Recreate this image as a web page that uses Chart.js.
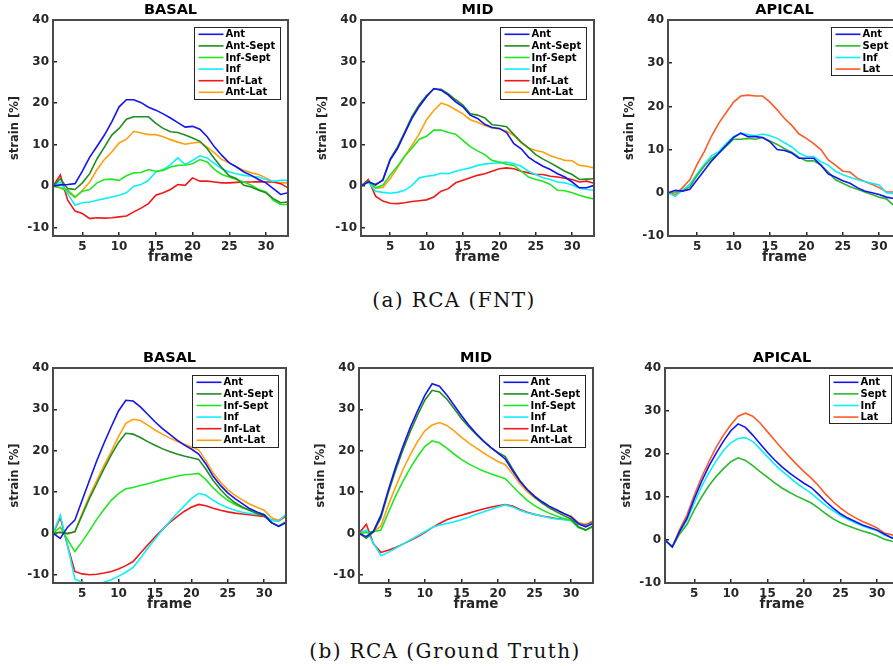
<!DOCTYPE html>
<html>
<head>
<meta charset="utf-8">
<script src="https://cdn.jsdelivr.net/npm/chart.js@4.4.1/dist/chart.umd.min.js"></script>
<style>
  body { margin: 0; background: #fff; width: 893px; height: 666px; overflow: hidden; position: relative; }
  canvas { position: absolute; }
  .axes-box {
    position: absolute; box-sizing: border-box; pointer-events: none;
    border: 2px solid #4a4a4a;
  }
  .caption {
    position: absolute; transform: translate(-50%, -50%); white-space: nowrap;
    font-family: "DejaVu Serif", serif; font-size: 20px; letter-spacing: 1.4px; color: #111;
  }
</style>
</head>
<body>
<canvas id="c1"></canvas>
<canvas id="c2"></canvas>
<canvas id="c3"></canvas>
<canvas id="c4"></canvas>
<canvas id="c5"></canvas>
<canvas id="c6"></canvas>
<div class="caption" style="left:454px; top:300px;">(a) RCA (FNT)</div>
<div class="caption" style="left:445px; top:651px;">(b) RCA (Ground Truth)</div>

<script>
// frames and tick values
const frames = [1,2,3,4,5,6,7,8,9,10,11,12,13,14,15,16,17,18,19,20,21,22,23,24,25,26,27,28,29,30,31,32,33];
const xTicks = [5, 10, 15, 20, 25, 30];
const yTicks = [-10, 0, 10, 20, 30, 40];

const segLabels = ['Ant', 'Ant-Sept', 'Inf-Sept', 'Inf', 'Inf-Lat', 'Ant-Lat'];
const apicalLabels = ['Ant', 'Sept', 'Inf', 'Lat'];

// (a) FNT - basal
const fntBasalAnt     = [0,0.3,0.4,0.6,3.6,7,9.6,12.3,15.5,19.1,20.8,20.8,20.1,19,18.3,17.4,16.4,15.3,14.2,14.4,13.7,11.9,9.4,7.4,5.6,4.6,3.4,2.6,1.6,0.8,-0.6,-2.0,-1.6];
const fntBasalAntSept = [0,1.8,-0.6,-0.8,0.8,3,6.6,9.4,12.3,13.9,16.1,16.7,16.7,16.7,15.1,13.9,13.1,12.9,12.3,11.6,10.8,9.0,6.6,4.4,2.5,1.8,0.2,-0.2,-1.0,-1.6,-3.0,-4.0,-3.8];
const fntBasalInfSept = [0,-0.4,-1.0,-2.6,-1.2,-0.8,0.8,1.6,1.7,1.4,2.5,3.2,3.3,4.0,3.6,3.8,4.6,5.0,5.1,5.4,6.4,5.8,4.0,2.8,2.2,1.6,1.0,0.2,-0.8,-1.4,-3.4,-4.4,-4.4];
const fntBasalInf     = [0,1.0,-1.8,-4.6,-4.0,-3.8,-3.4,-3.0,-2.6,-2.2,-1.6,0,0.4,1.4,3.4,4.0,5.2,6.8,5.2,6.2,7.3,6.8,5.4,4.2,3.4,3.0,2.6,2.4,2.2,1.6,1.2,1.4,1.4];
const fntBasalInfLat  = [0,2.7,-3.4,-6.0,-6.6,-7.8,-7.6,-7.7,-7.6,-7.4,-7.2,-6.2,-5.3,-4.2,-2.2,-1.6,-0.8,0.4,0.2,2.0,1.2,1.2,1.0,0.8,0.8,0.9,1.0,1.0,1.1,1.0,1.0,0.6,-0.4];
const fntBasalAntLat  = [0,-0.4,-1.4,-2.8,-1.0,1.0,4.0,6.4,8.2,10.4,11.3,13.2,12.8,12.4,12.4,11.9,11.2,10.6,10.1,10.4,10.6,9.4,8.0,6.4,5.6,4.6,3.8,3.2,2.8,2.0,1.0,0.8,0.8];

// (a) FNT - mid
const fntMidAnt     = [0,1.0,0.4,1.4,6.3,9.0,12.7,16.3,19.2,21.5,23.5,23.1,21.9,20.3,19.1,17.1,16.3,14.9,14.1,13.9,12.9,10.2,9.0,7.0,5.8,4.8,4.0,3.0,2.2,1.0,-0.4,-0.4,0.2];
const fntMidAntSept = [0,1.2,0.2,1.6,6.5,9.4,13.0,16.8,19.6,21.8,23.4,23.3,22.2,20.8,19.5,17.4,17.1,16.4,14.8,14.6,14.3,12.4,10.6,9.2,7.6,6.5,5.6,4.6,3.6,2.8,1.6,1.7,1.8];
const fntMidInfSept = [0,1.2,-0.4,0.2,2.6,4.8,7.2,9.2,11.3,12.0,13.5,13.5,12.9,12.5,11.0,9.5,8.5,7.6,6.2,5.8,5.3,5.0,3.6,2.2,1.6,1.2,0.4,-1.0,-1.1,-1.6,-2.2,-2.7,-3.1];
const fntMidInf     = [0,1.0,-1.2,-1.5,-1.7,-1.5,-1.0,0.2,2.0,2.4,2.6,3.1,3.0,3.6,4.0,4.4,5.0,5.3,5.5,5.6,5.8,5.4,4.8,3.6,2.8,2.0,1.6,1.0,0.8,0.3,-0.5,-0.8,-1.0];
const fntMidInfLat  = [0,1.6,-2.4,-3.6,-4.1,-4.2,-4.0,-3.7,-3.5,-3.3,-2.6,-1.2,-0.6,0.8,1.4,2.0,2.6,3.0,3.6,4.2,4.4,4.2,3.6,3.2,2.8,2.8,2.4,2.2,1.9,1.6,1.0,1.2,0.7];
const fntMidAntLat  = [0,1.4,-0.5,-0.3,1.8,4.4,7.2,9.8,12.6,16.0,18.2,20.0,19.4,18.4,17.4,16.0,15.4,14.6,14.0,13.8,13.2,12.2,10.4,9.2,8.6,8.2,7.3,6.8,6.2,6.1,5.0,4.8,4.4];

// (a) FNT - apical
const fntApAnt  = [0,0.6,0.4,0.8,3.0,5.2,7.4,9.2,11.0,12.8,13.8,13.0,13.0,12.8,11.8,10.0,9.8,9.2,8.0,8.0,8.0,6.4,4.4,3.6,2.8,2.2,1.2,0.4,0,-0.4,-1.0,-1.3,-1.5];
const fntApSept = [0,0.2,0.4,1.4,4.0,6.2,8.0,9.2,10.8,12.4,12.4,12.6,12.4,12.8,12.0,11.2,10.2,9.4,8.2,7.4,7.4,6.4,4.8,3.0,2.2,1.4,0.8,0.2,-0.4,-1.0,-1.4,-2.9,-2.8];
const fntApInf  = [0,-0.8,0.6,2.0,4.4,6.6,8.6,9.6,11.4,13.0,13.8,13.5,13.2,13.6,13.2,12.6,11.6,10.6,9.2,8.4,8.4,7.2,6.4,5.0,4.2,3.6,3.0,2.6,2.2,1.8,0,-0.2,-0.3];
const fntApLat  = [0,-0.4,1.2,3.0,6.6,9.6,13.2,16.2,18.6,21.0,22.4,22.6,22.4,22.4,21.0,19.2,17.2,15.6,13.6,12.6,11.4,10.0,7.6,6.4,5.0,4.8,3.4,2.6,2.0,1.2,0.2,0.2,0];

// (b) ground truth - basal
const gtBasalAnt     = [0,-1.2,1.5,3.2,8.0,12.8,17.5,21.8,25.8,29.6,32.2,32.0,30.6,28.8,27.0,25.4,24.0,22.6,21.4,20.4,19.2,16.8,13.8,11.6,9.8,8.4,7.2,6.0,5.2,4.5,2.6,1.7,2.6];
const gtBasalAntSept = [0,0.2,0,0.4,4.4,8.4,12.0,15.6,19.0,22.0,24.2,24.0,23.2,22.2,21.3,20.5,19.8,19.2,18.7,18.3,17.9,15.5,12.8,10.6,8.8,7.4,6.4,5.6,4.8,4.2,2.6,1.7,2.8];
const gtBasalInfSept = [0,1.5,-1.5,-4.4,-2.0,0.6,3.4,5.8,8.0,9.6,10.8,11.1,11.6,12.0,12.5,13.0,13.4,13.8,14.2,14.3,14.5,13.0,11.0,9.4,8.0,7.0,6.2,5.6,5.0,4.6,2.6,1.8,2.8];
const gtBasalInf     = [0,4.4,-3.0,-11.0,-11.8,-12.2,-12.2,-11.8,-11.2,-10.4,-9.4,-8.2,-6.0,-3.6,-1.4,0.8,2.8,4.8,6.6,8.4,9.7,9.2,8.0,7.0,6.2,5.6,5.1,4.8,4.6,4.5,3.2,3.0,4.6];
const gtBasalInfLat  = [0,3.8,-3.0,-9.2,-9.8,-10.0,-9.9,-9.6,-9.2,-8.6,-7.8,-6.8,-4.8,-2.8,-0.9,0.9,2.6,4.0,5.3,6.3,7.0,6.7,6.1,5.6,5.2,4.9,4.7,4.5,4.3,4.1,3.2,3.0,4.2];
const gtBasalAntLat  = [0,0.4,-0.2,0.4,4.8,9.0,12.8,16.4,19.8,23.4,26.6,27.6,27.3,26.2,25.0,24.0,23.1,22.3,21.6,20.9,20.2,17.6,14.6,12.4,10.6,9.2,8.1,7.1,6.3,5.6,3.8,3.2,4.4];

// (b) ground truth - mid
const gtMidAnt     = [0,-0.8,0.6,4.4,10.4,16.0,21.0,25.6,29.6,33.4,36.2,35.6,33.5,31.0,28.5,26.2,24.2,22.4,20.8,19.4,18.0,15.2,12.6,10.6,9.0,7.7,6.6,5.7,4.8,4.0,2.4,1.6,2.4];
const gtMidAntSept = [0,-1.2,0.4,3.8,9.8,15.2,20.2,24.6,28.6,32.2,34.6,34.2,32.5,30.2,27.8,25.8,24.0,22.3,20.8,19.6,18.6,15.6,12.8,10.6,8.8,7.4,6.2,5.2,4.3,3.5,1.6,0.8,1.8];
const gtMidInfSept = [0,0.2,0.4,0.8,5.0,9.0,12.6,15.8,18.6,21.0,22.4,21.9,20.6,19.2,17.9,16.8,15.9,15.1,14.4,13.8,13.2,11.4,9.6,8.0,6.7,5.7,4.9,4.2,3.6,3.1,1.4,0.8,1.6];
const gtMidInf     = [0,0.8,-2.4,-5.4,-4.6,-3.6,-2.6,-1.6,-0.6,0.4,1.4,2.0,2.4,2.8,3.3,3.9,4.6,5.2,5.8,6.4,6.9,6.4,5.6,5.0,4.6,4.2,3.8,3.5,3.3,3.1,2.2,1.8,2.6];
const gtMidInfLat  = [0,2.2,-2.6,-4.6,-4.1,-3.4,-2.6,-1.7,-0.8,0.2,1.4,2.4,3.3,3.9,4.4,4.9,5.4,5.9,6.3,6.7,7.0,6.6,5.8,5.1,4.6,4.2,3.9,3.6,3.4,3.2,2.2,2.0,2.8];
const gtMidAntLat  = [0,0.2,0.4,1.8,6.8,11.2,15.4,19.0,22.2,24.8,26.2,26.8,26.1,24.8,23.3,21.9,20.7,19.5,18.4,17.4,16.6,14.4,12.0,10.1,8.6,7.4,6.4,5.6,4.8,4.2,2.6,2.2,3.0];

// (b) ground truth - apical
const gtApAnt  = [0,-1.6,2.0,5.0,9.6,13.6,17.2,20.2,23.0,25.4,27.0,26.2,24.4,22.4,20.4,18.6,17.0,15.6,14.4,13.2,12.2,10.6,8.9,7.4,6.1,5.1,4.3,3.5,2.9,2.3,1.4,0.5,0.4];
const gtApSept = [0,-1.6,1.4,3.6,7.0,10.0,12.6,14.8,16.6,18.2,19.1,18.5,17.3,15.9,14.6,13.3,12.1,11.1,10.2,9.4,8.6,7.4,6.1,4.9,4.0,3.3,2.7,2.1,1.6,1.0,0.2,-0.3,-0.4];
const gtApInf  = [0,-1.6,1.8,4.6,8.6,12.4,15.6,18.4,20.8,22.6,23.6,23.8,22.9,21.2,19.4,17.6,16.0,14.6,13.2,12.0,10.9,9.4,8.0,6.8,5.7,4.8,4.0,3.3,2.7,2.2,1.1,0.6,0.5];
const gtApLat  = [0,-1.6,2.4,5.8,10.4,14.6,18.2,21.6,24.4,26.8,28.8,29.5,28.8,27.2,25.2,23.2,21.2,19.4,17.6,15.9,14.4,12.6,10.6,8.9,7.4,6.2,5.2,4.3,3.6,2.8,1.6,1.2,1.0];

// line colours
const segColors = ['#1414f0', '#228b22', '#22e622', '#10eef8', '#f01818', '#ffa010'];
const apicalColors = ['#1414f0', '#2db82d', '#10eef8', '#ff5a28'];

const axisColor = '#262626';
const fontFamily = '"DejaVu Sans", sans-serif';

// matlab style legend box inside the top right corner
const insideLegend = {
    id: 'insideLegend',
    afterDraw(chart) {
        const ctx = chart.ctx;
        const a = chart.chartArea;
        const sets = chart.data.datasets;
        ctx.save();
        ctx.font = 'bold 10px ' + fontFamily;
        const tw = Math.max(...sets.map(d => ctx.measureText(d.label).width));
        const rowH = 11.6;
        const w = Math.round(4 + 25 + 3 + tw + 4);
        const h = Math.round(sets.length * rowH + 2);
        const x0 = Math.round(a.right - 8 - w) + 0.5;
        const y0 = Math.round(a.top + 7) + 0.5;
        ctx.fillStyle = '#fff';
        ctx.fillRect(x0, y0, w, h);
        ctx.lineWidth = 1;
        ctx.strokeStyle = axisColor;
        ctx.strokeRect(x0, y0, w, h);
        sets.forEach((d, i) => {
            const yy = y0 + 1 + rowH * (i + 0.5);
            ctx.strokeStyle = d.borderColor;
            ctx.lineWidth = 1.6;
            ctx.beginPath();
            ctx.moveTo(x0 + 4, yy); ctx.lineTo(x0 + 29, yy);
            ctx.stroke();
            ctx.fillStyle = '#000';
            ctx.textBaseline = 'middle';
            ctx.fillText(d.label, x0 + 31, yy + 0.5);
        });
        ctx.restore();
    }
};

// where each plot area sits on the page
const panels = [
    { id: 'c1', title: 'BASAL',  left: 53,  top: 20,  width: 235, height: 216, yMin: -12, labels: segLabels,    colors: segColors,
      series: [fntBasalAnt, fntBasalAntSept, fntBasalInfSept, fntBasalInf, fntBasalInfLat, fntBasalAntLat] },
    { id: 'c2', title: 'MID',    left: 361, top: 20,  width: 233, height: 216, yMin: -12, labels: segLabels,    colors: segColors,
      series: [fntMidAnt, fntMidAntSept, fntMidInfSept, fntMidInf, fntMidInfLat, fntMidAntLat] },
    { id: 'c3', title: 'APICAL', left: 668, top: 20,  width: 233, height: 216, yMin: -10, labels: apicalLabels, colors: apicalColors,
      series: [fntApAnt, fntApSept, fntApInf, fntApLat] },
    { id: 'c4', title: 'BASAL',  left: 53,  top: 368, width: 233, height: 215, yMin: -12, labels: segLabels,    colors: segColors,
      series: [gtBasalAnt, gtBasalAntSept, gtBasalInfSept, gtBasalInf, gtBasalInfLat, gtBasalAntLat] },
    { id: 'c5', title: 'MID',    left: 359, top: 368, width: 234, height: 215, yMin: -12, labels: segLabels,    colors: segColors,
      series: [gtMidAnt, gtMidAntSept, gtMidInfSept, gtMidInf, gtMidInfLat, gtMidAntLat] },
    { id: 'c6', title: 'APICAL', left: 665, top: 368, width: 234, height: 215, yMin: -10, labels: apicalLabels, colors: apicalColors,
      series: [gtApAnt, gtApSept, gtApInf, gtApLat] }
];

const yAxisW = 53, xAxisH = 45, titleH = 20, rightPad = 12;

function makePanel(p) {
    const canvas = document.getElementById(p.id);
    canvas.width = yAxisW + p.width + rightPad;
    canvas.height = titleH + p.height + xAxisH;
    canvas.style.left = (p.left - yAxisW) + 'px';
    canvas.style.top = (p.top - titleH) + 'px';

    const tickFont = { family: fontFamily, size: 12, weight: 'bold' };
    // negative tick length puts the tick marks inside the box, like matlab
    const inwardTicks = { display: true, drawOnChartArea: false, drawTicks: true, tickLength: -4, color: axisColor, lineWidth: 1.5 };

    const chart = new Chart(canvas.getContext('2d'), {
        type: 'line',
        data: {
            datasets: p.series.map((s, i) => ({
                label: p.labels[i],
                data: frames.map((f, j) => ({ x: f, y: s[j] })),
                borderColor: p.colors[i],
                borderWidth: 1.6,
                pointRadius: 0,
                fill: false,
                tension: 0
            }))
        },
        options: {
            responsive: false,
            animation: false,
            devicePixelRatio: 1,
            layout: { padding: { left: 0, top: 0, right: rightPad, bottom: 0 } },
            plugins: {
                legend: { display: false },
                tooltip: { enabled: false },
                title: {
                    display: true,
                    text: p.title,
                    fullSize: false,
                    color: '#000',
                    font: { family: fontFamily, size: 14.5, weight: 'bold', lineHeight: 1.2 },
                    padding: { top: 1.3, bottom: 1.3 }
                }
            },
            scales: {
                x: {
                    type: 'linear',
                    min: frames[0],
                    max: frames[frames.length - 1],
                    afterBuildTicks: s => { s.ticks = xTicks.map(v => ({ value: v })); },
                    afterFit: s => { s.height = xAxisH; },
                    grid: inwardTicks,
                    border: { display: false },
                    ticks: { color: axisColor, font: tickFont, padding: 8, maxRotation: 0, autoSkip: false },
                    title: {
                        display: true, text: 'frame', color: axisColor,
                        font: { family: fontFamily, size: 13.5, weight: 'bold', lineHeight: 1.2 },
                        padding: { top: 0, bottom: 15 }
                    }
                },
                y: {
                    min: p.yMin,
                    max: 40,
                    afterBuildTicks: s => { s.ticks = yTicks.map(v => ({ value: v })); },
                    afterFit: s => { s.width = yAxisW; },
                    grid: inwardTicks,
                    border: { display: false },
                    ticks: { color: axisColor, font: tickFont, padding: 8, autoSkip: false },
                    title: {
                        display: true, text: 'strain [%]', color: axisColor,
                        font: { family: fontFamily, size: 11.5, weight: 'bold', lineHeight: 1.2 },
                        padding: { top: 8, bottom: 0 }
                    }
                }
            }
        },
        plugins: [insideLegend]
    });

    // the axes box, laid over the chart area edges
    const a = chart.chartArea;
    const box = document.createElement('div');
    box.className = 'axes-box';
    box.style.left = (p.left - yAxisW + a.left - 1) + 'px';
    box.style.top = (p.top - titleH + a.top - 1) + 'px';
    box.style.width = (a.right - a.left + 2) + 'px';
    box.style.height = (a.bottom - a.top + 2) + 'px';
    document.body.appendChild(box);
    return chart;
}

panels.forEach(makePanel);
</script>
</body>
</html>
